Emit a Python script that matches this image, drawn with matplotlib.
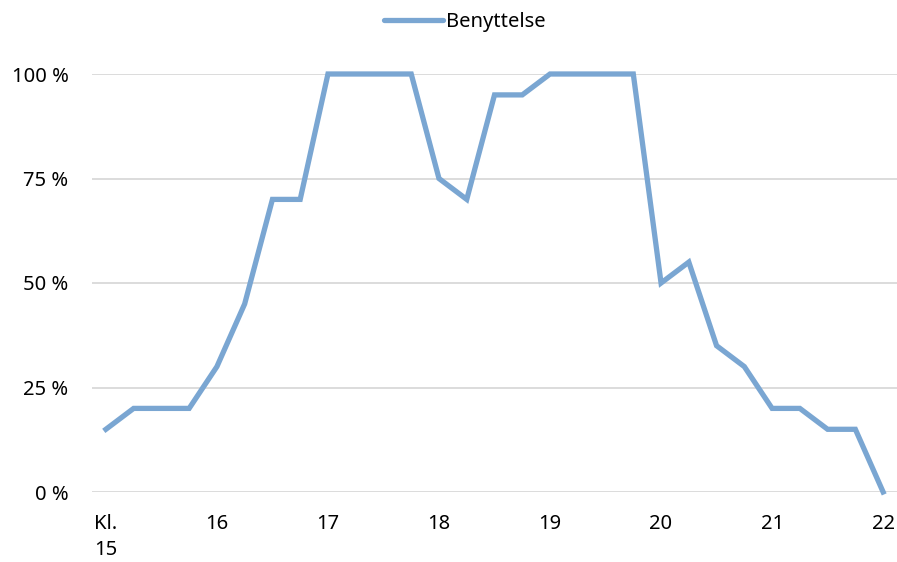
import matplotlib
matplotlib.use("Agg")
import matplotlib.pyplot as plt
from matplotlib.lines import Line2D

values = [15, 20, 20, 20, 30, 45, 70, 70, 100, 100, 100, 100, 75, 70, 95, 95,
          100, 100, 100, 100, 50, 55, 35, 30, 20, 20, 15, 15, 0]
hour_labels = ["Kl.\n15", "16", "17", "18", "19", "20", "21", "22"]
y_ticks = [0, 25, 50, 75, 100]
y_labels = ["0 %", "25 %", "50 %", "75 %", "100 %"]
series_name = "Benyttelse"

plt.rcParams['font.family'] = ['Noto Sans', 'DejaVu Sans']
color = "#7AA6D2"

fig = plt.figure(figsize=(8.97, 5.62), dpi=100)
ax = fig.add_axes([92/897, 1-492/562, 1-92/897, (492-74)/562])

x = list(range(len(values)))
ax.plot(x, values, color=color, lw=3.8, solid_joinstyle='miter', clip_on=False, zorder=3)

ax.set_xlim(-0.5, len(values)-0.5)
ax.set_ylim(0, 100)
ax.set_yticks(y_ticks)
ax.set_yticklabels(y_labels, fontsize=14.5)
ax.set_xticks(list(range(0, len(values), 4)))
ax.set_xticklabels(hour_labels, fontsize=14.5, multialignment='left', va='top',
                   linespacing=1.4)
ax.tick_params(axis='both', length=0)
ax.tick_params(axis='y', pad=17)
ax.tick_params(axis='x', pad=16)
for s in ax.spines.values():
    s.set_visible(False)
ax.grid(axis='y', color='#D9D9D9', lw=1.3)
ax.set_axisbelow(True)

handle = Line2D([0], [0], color=color, lw=3.8, solid_capstyle='round')
fig.legend([handle], [series_name], loc='center', bbox_to_anchor=(465/897, 1-22/562),
           frameon=False, fontsize=14.5, handlelength=2.9, handletextpad=0.15)

fig.savefig("out.png", dpi=100)
